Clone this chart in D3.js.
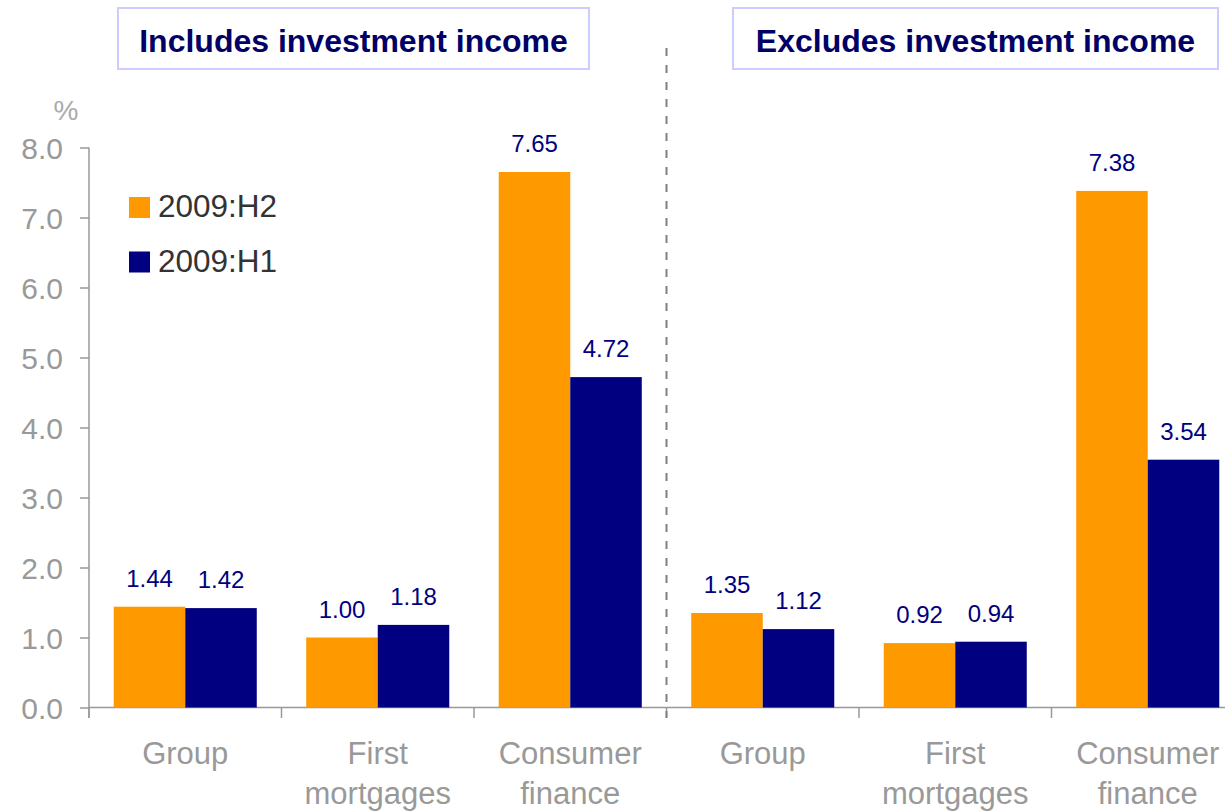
<!DOCTYPE html>
<html>
<head>
<meta charset="utf-8">
<script src="https://cdn.jsdelivr.net/npm/d3@7"></script>
<style>
  body { margin: 0; background: #fff; }
  svg { font-family: "Liberation Sans", Arial, sans-serif; }
</style>
</head>
<body>
<div class="panel"></div>
<script>
const width = 1225;
const height = 812;

const panels = ["Includes investment income", "Excludes investment income"];
const categories = ["Group", "First mortgages", "Consumer finance"];
const categoryLines = [["Group"], ["First", "mortgages"], ["Consumer", "finance"]];
const seriesNames = ["2009:H2", "2009:H1"];
const h2Includes = [1.44, 1.00, 7.65];
const h1Includes = [1.42, 1.18, 4.72];
const h2Excludes = [1.35, 0.92, 7.38];
const h1Excludes = [1.12, 0.94, 3.54];
const yTicks = [0, 1, 2, 3, 4, 5, 6, 7, 8];

const colours = ["#ff9900", "#000080"];
const grey = "#999999";

// flat table: one row per category per panel
const rows = [];
panels.forEach((p, pi) => {
  const h2 = pi === 0 ? h2Includes : h2Excludes;
  const h1 = pi === 0 ? h1Includes : h1Excludes;
  categories.forEach((c, ci) => {
    rows.push({key: pi + "-" + ci, panel: pi, cat: ci, values: [h2[ci], h1[ci]]});
  });
});

const svg = d3.select(".panel")
  .append("svg")
  .attr("width", width)
  .attr("height", height);

const xScale = d3.scaleBand()
  .domain(rows.map(d => d.key))
  .range([89, 1244])
  .paddingInner(0.257)
  .paddingOuter(0.1285);

const inner = d3.scaleBand()
  .domain([0, 1])
  .range([0, xScale.bandwidth()]);

const yScale = d3.scaleLinear()
  .domain([0, 8])
  .range([707.5, 147.5]);

// y axis
const yAxis = d3.axisLeft(yScale)
  .tickValues(yTicks)
  .tickFormat(d3.format(".1f"))
  .tickSize(9)
  .tickSizeOuter(0);

const yg = svg.append("g")
  .attr("transform", "translate(89,0)")
  .call(yAxis);
yg.select(".domain").remove();
yg.selectAll(".tick line").attr("stroke", grey).attr("stroke-width", 1.5);
yg.selectAll(".tick text")
  .attr("fill", grey)
  .attr("font-size", 30)
  .attr("x", -26)
  .attr("dy", "0.36em");

svg.append("line")
  .attr("x1", 89).attr("x2", 89)
  .attr("y1", yScale(8)).attr("y2", 718)
  .attr("stroke", grey).attr("stroke-width", 1.5);

svg.append("text")
  .attr("x", 66).attr("y", 120)
  .attr("text-anchor", "middle")
  .attr("fill", "#aaaaaa")
  .attr("font-size", 28)
  .text("%");

// x axis
svg.append("line")
  .attr("x1", 89).attr("x2", width)
  .attr("y1", yScale(0)).attr("y2", yScale(0))
  .attr("stroke", grey).attr("stroke-width", 1.5);

const step = xScale.step();
const bounds = rows.map(d => xScale(d.key) - step * xScale.paddingInner() / 2);
svg.selectAll(".xtick")
  .data(bounds)
  .enter()
  .append("line")
  .attr("class", "xtick")
  .attr("x1", d => d).attr("x2", d => d)
  .attr("y1", yScale(0)).attr("y2", 718)
  .attr("stroke", grey).attr("stroke-width", 1.5);

// bars
const groups = svg.selectAll(".cat")
  .data(rows)
  .enter()
  .append("g")
  .attr("class", "cat")
  .attr("transform", d => `translate(${xScale(d.key)},0)`);

groups.selectAll("rect")
  .data(d => d.values)
  .enter()
  .append("rect")
  .attr("x", (v, i) => inner(i))
  .attr("width", inner.bandwidth())
  .attr("y", v => yScale(v))
  .attr("height", v => yScale(0) - yScale(v))
  .attr("fill", (v, i) => colours[i]);

groups.selectAll(".val")
  .data(d => d.values)
  .enter()
  .append("text")
  .attr("class", "val")
  .attr("x", (v, i) => inner(i) + inner.bandwidth() / 2)
  .attr("y", v => yScale(v) - 20)
  .attr("text-anchor", "middle")
  .attr("fill", "#000080")
  .attr("font-size", 24)
  .text(v => v.toFixed(2));

// category labels
groups.append("text")
  .attr("text-anchor", "middle")
  .attr("fill", grey)
  .attr("font-size", 31)
  .selectAll("tspan")
  .data(d => categoryLines[d.cat])
  .enter()
  .append("tspan")
  .attr("x", xScale.bandwidth() / 2)
  .attr("y", (t, i) => 764 + i * 40)
  .text(t => t);

// divider between panels
const mid = bounds[3];
svg.append("line")
  .attr("x1", mid).attr("x2", mid)
  .attr("y1", 48).attr("y2", 718)
  .attr("stroke", "#808080")
  .attr("stroke-width", 2)
  .attr("stroke-dasharray", "8,9");

// panel titles
const titleBoxes = [[118, 589], [733, 1218]];
panels.forEach((p, i) => {
  const [x0, x1] = titleBoxes[i];
  svg.append("rect")
    .attr("x", x0).attr("y", 8)
    .attr("width", x1 - x0).attr("height", 61)
    .attr("fill", "#fff")
    .attr("stroke", "#ccccff")
    .attr("stroke-width", 2);
  svg.append("text")
    .attr("x", (x0 + x1) / 2).attr("y", 52)
    .attr("text-anchor", "middle")
    .attr("fill", "#000066")
    .attr("font-size", 32)
    .attr("font-weight", "bold")
    .text(p);
});

// legend
const legend = svg.append("g").attr("transform", "translate(129,197)");
seriesNames.forEach((s, i) => {
  legend.append("rect")
    .attr("x", 0).attr("y", i * 54.5)
    .attr("width", 21).attr("height", 21)
    .attr("fill", colours[i]);
  legend.append("text")
    .attr("x", 29).attr("y", i * 54.5 + 20)
    .attr("fill", "#333333")
    .attr("font-size", 31.5)
    .text(s);
});
</script>
</body>
</html>
